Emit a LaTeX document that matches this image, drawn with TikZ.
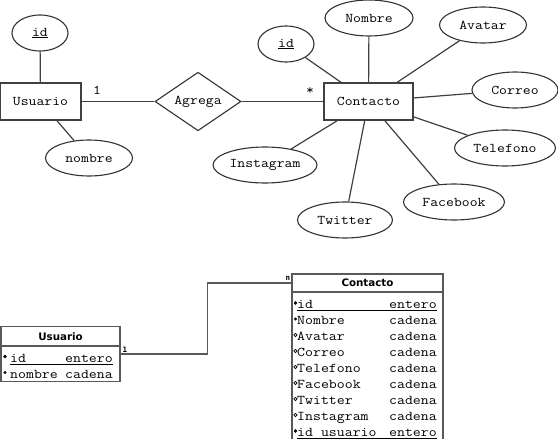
\documentclass[tikz,border=0pt]{standalone}
\usepackage{fontspec}
\newfontfamily\cour{Latin Modern Mono}[FakeStretch=1.15]
\newfontfamily\hdrfont{DejaVu Sans}
\newfontfamily\tinyfont{DejaVu Sans Mono}
\usetikzlibrary{shapes.geometric}
\newcommand\ermono{\cour\fontsize{13.3}{15}\selectfont}
\newcommand\tabmono{\cour\fontsize{13.4}{15}\selectfont}
\newcommand\tabhdr{\hdrfont\bfseries\fontsize{10.3}{12}\selectfont}
\newcommand\tinylbl{\tinyfont\bfseries\fontsize{7.5}{8}\selectfont}
\begin{document}
\begin{tikzpicture}[x=1pt,y=-1pt,
  ln/.style={draw=black!75, line width=1.2pt},
  ent/.style={draw=black!75, line width=1.3pt, rectangle, inner sep=0pt, minimum height=37pt, font=\ermono},
  attr/.style={draw=black!80, line width=1.1pt, ellipse, inner sep=0pt, minimum height=36pt, font=\ermono},
  rel/.style={draw=black!80, line width=1.1pt, diamond, inner sep=0pt, minimum width=86pt, minimum height=51pt, font=\ermono},
  tbox/.style={draw=black!65, line width=1.3pt, rectangle, inner sep=0pt},
  thead/.style={rectangle, inner sep=0pt, font=\tabhdr},
  tname/.style={anchor=base west, inner sep=0pt, font=\tabmono},
  ttype/.style={anchor=base east, inner sep=0pt, font=\tabmono},
  tline/.style={draw=black!65, line width=1.3pt},
  lbl/.style={inner sep=0pt, font=\ermono, anchor=base},
  tlbl/.style={inner sep=0pt, font=\tinylbl, anchor=base},
  keym/.style={fill=black},
  reqm/.style={fill=black},
  optm/.style={draw=black, line width=0.6pt}
]
\clip (0,0) rectangle (558,439);
\fill[white] (0,0) rectangle (558,439);

% ---------- ER diagram ----------
\node[ent, minimum width=81pt] (usr) at (40.5,101.5) {Usuario};
\node[ent, minimum width=89pt] (con) at (368.5,101.5) {Contacto};
\node[rel] (agr) at (198,101.5) {Agrega};

\node[attr, minimum width=56pt] (uid) at (40,33) {\underline{id}};
\node[attr, minimum width=87pt] (unom) at (89,158) {nombre};

\node[attr, minimum width=56pt] (cid) at (286,44) {\underline{id}};
\node[attr, minimum width=88pt] (cnom) at (369,18) {Nombre};
\node[attr, minimum width=87pt] (cava) at (483,25) {Avatar};
\node[attr, minimum width=86pt] (ccor) at (515,90) {Correo};
\node[attr, minimum width=101pt] (ctel) at (505,148) {Telefono};
\node[attr, minimum width=101pt] (cfac) at (454,202) {Facebook};
\node[attr, minimum width=95pt] (ctwi) at (345,220) {Twitter};
\node[attr, minimum width=104pt] (cins) at (265,165) {Instagram};

\draw[ln] (usr) -- (uid);
\draw[ln] (usr) -- (unom);
\draw[ln] (usr) -- (agr);
\draw[ln] (agr) -- (con);
\foreach \a in {cid,cnom,cava,ccor,ctel,cfac,ctwi,cins}
  \draw[ln] (con) -- (\a);

\node[lbl] (one) at (97,94) {1};
\node[lbl] (star) at (310,94.5) {*};

% ---------- Relational tables ----------
\node[tbox, minimum width=119pt, minimum height=55pt] (utab) at (60.5,354) {};
\node[thead, minimum width=119pt, minimum height=19pt] (uhead) at (60.5,336.5) {Usuario};
\draw[tline] (1,346) -- (120,346);
\node[tname] (u1) at (10,362) {id};
\node[ttype] (u1t) at (113,362) {entero};
\draw[black, line width=0.9pt] (10,364.5) -- (113,364.5);
\node[tname] (u2) at (10,378) {nombre};
\node[ttype] (u2t) at (113,378) {cadena};
\fill[keym] (5,354.5) -- (6.8,356.5) -- (5,358.5) -- (3.2,356.5) -- cycle;
\fill[reqm] (5,372.5) circle (1.7);

\node[tbox, minimum width=151pt, minimum height=180pt] (ctab) at (367.5,364) {};
\node[thead, minimum width=151pt, minimum height=18pt] (chead) at (367.5,283) {Contacto};
\draw[tline] (292,292) -- (443,292);

\foreach \n/\t/\k [count=\i from 0] in {id/entero/key, Nombre/cadena/req, Avatar/cadena/opt, Correo/cadena/opt, Telefono/cadena/opt, Facebook/cadena/opt, Twitter/cadena/opt, Instagram/cadena/opt, id usuario/entero/key}{
  \pgfmathsetmacro\yb{308+16*\i}
  \node[tname] (cn\i) at (297,\yb) {\n};
  \node[ttype] (ct\i) at (437,\yb) {\t};
  \ifnum\pdfstrcmp{\k}{key}=0
    \fill[keym] (295.5,\yb-7) -- (297.2,\yb-5) -- (295.5,\yb-3) -- (293.8,\yb-5) -- cycle;
    \draw[black, line width=0.9pt] (297,\yb+2.5) -- (437,\yb+2.5);
  \fi
  \ifnum\pdfstrcmp{\k}{req}=0
    \fill[reqm] (295.5,\yb-5) circle (1.7);
  \fi
  \ifnum\pdfstrcmp{\k}{opt}=0
    \draw[optm] (295.5,\yb-5) circle (1.6);
  \fi
}

\draw[tline] (utab.east) -- ++(86.5,0) |- (chead.west);
\node[tlbl] (l1) at (125,352) {1};
\node[tlbl] (ln) at (288,280) {n};
\end{tikzpicture}
\end{document}
